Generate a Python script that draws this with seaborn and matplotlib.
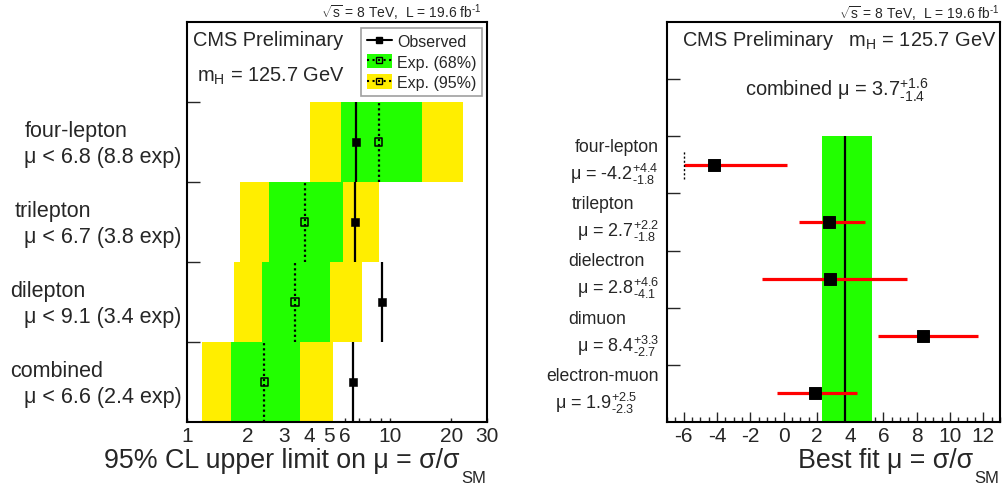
import numpy as np
import pandas as pd
import seaborn as sns
import matplotlib.pyplot as plt
from matplotlib.lines import Line2D
from matplotlib.patches import Patch
from matplotlib.ticker import FixedLocator, MultipleLocator, NullFormatter, FixedFormatter
from matplotlib.transforms import blended_transform_factory

sns.set_style("ticks")
plt.rcParams["font.family"] = ["Liberation Sans", "DejaVu Sans"]
plt.rcParams["mathtext.fontset"] = "custom"
plt.rcParams["mathtext.rm"] = "Liberation Sans"
plt.rcParams["mathtext.it"] = "Liberation Sans:italic"
plt.rcParams["mathtext.bf"] = "Liberation Sans:bold"
plt.rcParams["axes.unicode_minus"] = False

# 左图: 95% CL 上限 (从下到上)
lim_names = ["combined", "dilepton", "trilepton", "four-lepton"]
lim_obs = [6.6, 9.1, 6.7, 6.8]
lim_exp = [2.4, 3.4, 3.8, 8.8]
lim_lo68 = [1.65, 2.34, 2.53, 5.73]
lim_hi68 = [3.59, 5.06, 5.86, 14.4]
lim_lo95 = [1.19, 1.70, 1.82, 4.03]
lim_hi95 = [5.22, 7.25, 8.8, 22.9]
lim_xticks = [1, 2, 3, 4, 5, 6, 10, 20, 30]

# 右图: best fit (从下到上)
fit_names = ["electron-muon", "dimuon", "dielectron", "trilepton", "four-lepton"]
fit_mu = [1.9, 8.4, 2.8, 2.7, -4.2]
fit_up = [2.5, 3.3, 4.6, 2.2, 4.4]
fit_dn = [2.3, 2.7, 4.1, 1.8, 1.8]
comb_mu, comb_up, comb_dn = 3.7, 1.6, 1.4

GREEN = "#22ff00"
YELLOW = "#ffee00"
HY = "\u2010"  # 短连字符, mathtext 里 "-" 会变成长减号
W, H = 1003, 489


def fx(x):
    return x / W


def fy(y):
    return 1 - y / H


fig = plt.figure(figsize=(W / 100, H / 100), dpi=100)
ax1 = fig.add_axes([fx(187), fy(423), 300 / W, 400 / H])
ax2 = fig.add_axes([fx(667), fy(423), 333 / W, 400 / H])

# ---------------- 左图 ----------------
df_lim = pd.DataFrame({
    "name": lim_names, "obs": lim_obs, "exp": lim_exp,
    "lo68": lim_lo68, "hi68": lim_hi68, "lo95": lim_lo95, "hi95": lim_hi95,
})
df_lim["row"] = np.arange(len(df_lim))
df_lim["yc"] = df_lim["row"] + 0.5

ax1.barh(df_lim["yc"], df_lim["hi95"] - df_lim["lo95"], left=df_lim["lo95"],
         height=1, color=YELLOW, lw=0)
ax1.barh(df_lim["yc"], df_lim["hi68"] - df_lim["lo68"], left=df_lim["lo68"],
         height=1, color=GREEN, lw=0)
ax1.vlines(df_lim["obs"], df_lim["row"], df_lim["row"] + 1, color="k", lw=1.6)
ax1.vlines(df_lim["exp"], df_lim["row"], df_lim["row"] + 1, color="k", lw=1.6,
           linestyles=(0, (1, 1.3)))
sns.scatterplot(data=df_lim, x="obs", y="yc", marker="s", s=26, color="k",
                edgecolor="k", ax=ax1, zorder=5, legend=False)
sns.scatterplot(data=df_lim, x="exp", y="yc", marker="s", s=28, facecolor="none",
                edgecolor="k", linewidth=1.1, ax=ax1, zorder=5, legend=False)

ax1.set_xscale("log")
ax1.set_xlim(1, 30)
ax1.set_ylim(0, 5)
ax1.xaxis.set_major_locator(FixedLocator(lim_xticks))
ax1.xaxis.set_major_formatter(FixedFormatter([str(t) for t in lim_xticks]))
ax1.xaxis.set_minor_locator(FixedLocator([7, 8, 9]))
ax1.xaxis.set_minor_formatter(NullFormatter())
ax1.set_yticks([1, 2, 3, 4])
ax1.set_yticklabels([])
ax1.tick_params(axis="x", which="major", direction="in", length=3, width=1,
                labelsize=15, pad=3, top=False)
ax1.tick_params(axis="x", which="minor", direction="in", length=3, width=1, top=False)
ax1.tick_params(axis="y", direction="in", length=9.5, width=1, right=False)
for t in ax1.xaxis.get_major_ticks():
    if t.get_loc() == 10:
        t.tick1line.set_markersize(6)
ax1.set_xlabel("")
ax1.set_ylabel("")
for sp in ax1.spines.values():
    sp.set_linewidth(1.5)
    sp.set_color("k")

tr1 = blended_transform_factory(fig.transFigure, ax1.transData)
name_x1 = [10, 10, 15, 25]
for i, r in df_lim.iterrows():
    ax1.text(fx(name_x1[i]), r["row"] + 0.64, r["name"], transform=tr1,
             ha="left", va="center", fontsize=15.5)
    ax1.text(fx(24), r["row"] + 0.32, f"μ < {r['obs']:.1f} ({r['exp']:.1f} exp)",
             transform=tr1, ha="left", va="center", fontsize=15.5)

fig.text(fx(193), fy(45.5), "CMS Preliminary", fontsize=14.4, ha="left", va="baseline")
fig.text(fx(197), fy(82), r"m$_{\mathrm{H}}$ = 125.7 GeV", fontsize=14.4,
         ha="left", va="baseline")
fig.text(fx(482), fy(18), r"$\sqrt{\mathrm{s}}$ = 8 TeV,  L = 19.6 fb$^{%s1}$" % HY,
         fontsize=10, ha="right", va="baseline")
# x 轴标题, 下标 SM 单独放低一点 (ROOT 风格)
fig.text(fx(460), fy(468), "95% CL upper limit on μ = σ/σ",
         fontsize=19.3, ha="right", va="baseline")
fig.text(fx(461), fy(483), "SM", fontsize=12, ha="left", va="baseline")

handles = [
    Line2D([], [], color="k", lw=1.5, marker="s", ms=5),
    (Patch(facecolor=GREEN, lw=0),
     Line2D([], [], color="k", lw=1.5, ls=":", marker="s", ms=5, mfc="none")),
    (Patch(facecolor=YELLOW, lw=0),
     Line2D([], [], color="k", lw=1.5, ls=":", marker="s", ms=5, mfc="none")),
]
leg = ax1.legend(handles, ["Observed", "Exp. (68%)", "Exp. (95%)"],
                 loc="upper right", bbox_to_anchor=(fx(482), fy(29)),
                 bbox_transform=fig.transFigure, borderaxespad=0, frameon=True,
                 fancybox=False, edgecolor="#888888", fontsize=11.5,
                 handlelength=1.6, handleheight=1.0, handletextpad=0.3,
                 borderpad=0.35, labelspacing=0.3)
leg.get_frame().set_linewidth(1.2)

# ---------------- 右图 ----------------
df_fit = pd.DataFrame({"name": fit_names, "mu": fit_mu, "up": fit_up, "dn": fit_dn})
df_fit["row"] = np.arange(len(df_fit))
df_fit["yc"] = df_fit["row"] + 0.5
n_fit = len(df_fit)

ax2.fill_betweenx([0, n_fit], comb_mu - comb_dn, comb_mu + comb_up, color=GREEN, lw=0)
ax2.vlines(comb_mu, 0, n_fit, color="k", lw=1.6)
ax2.hlines(df_fit["yc"], df_fit["mu"] - df_fit["dn"], df_fit["mu"] + df_fit["up"],
           color="#ff0000", lw=2.3)
top = df_fit.iloc[-1]
ax2.vlines(top["mu"] - top["dn"], top["row"] + 0.25, top["row"] + 0.75,
           color="k", lw=1, linestyles=(0, (1.5, 1.5)))
sns.scatterplot(data=df_fit, x="mu", y="yc", marker="s", s=70, color="k",
                edgecolor="k", ax=ax2, zorder=5, legend=False)

ax2.set_xlim(-7, 13)
ax2.set_ylim(0, 7)
ax2.set_xticks(np.arange(-6, 13, 2))
ax2.xaxis.set_minor_locator(MultipleLocator(0.5))
ax2.set_yticks([1, 2, 3, 4, 5, 6])
ax2.set_yticklabels([])
ax2.tick_params(axis="x", which="major", direction="in", length=7, width=1,
                labelsize=15, pad=3, top=False)
ax2.tick_params(axis="x", which="minor", direction="in", length=3.6, width=1, top=False)
ax2.tick_params(axis="y", direction="in", length=9.5, width=1, right=False)
ax2.set_xlabel("")
ax2.set_ylabel("")
for sp in ax2.spines.values():
    sp.set_linewidth(1.5)
    sp.set_color("k")

tr2 = blended_transform_factory(fig.transFigure, ax2.transData)
name_x2 = [546, 568, 568, 572, 575]
mu_x2 = [637, 659, 659, 659, 659]
for i, r in df_fit.iterrows():
    ax2.text(fx(name_x2[i]), r["row"] + 0.74, r["name"], transform=tr2,
             ha="left", va="baseline", fontsize=12.7)
    lab = r"μ = %.1f$^{+%.1f}_{%s%.1f}$" % (r["mu"], r["up"], HY, r["dn"])
    ax2.text(fx(mu_x2[i]), r["row"] + 0.25, lab, transform=tr2,
             ha="right", va="baseline", fontsize=13)

fig.text(fx(682), fy(46), r"CMS Preliminary   m$_{\mathrm{H}}$ = 125.7 GeV",
         fontsize=14.4, ha="left", va="baseline")
fig.text(fx(745), fy(96),
         r"combined μ = %.1f$^{+%.1f}_{%s%.1f}$" % (comb_mu, comb_up, HY, comb_dn),
         fontsize=14.4, ha="left", va="baseline")
fig.text(fx(1000), fy(19), r"$\sqrt{\mathrm{s}}$ = 8 TeV,  L = 19.6 fb$^{%s1}$" % HY,
         fontsize=10, ha="right", va="baseline")
fig.text(fx(973), fy(468), "Best fit μ = σ/σ", fontsize=19.3, ha="right", va="baseline")
fig.text(fx(974), fy(483), "SM", fontsize=12, ha="left", va="baseline")

fig.savefig("out.png", dpi=100)
